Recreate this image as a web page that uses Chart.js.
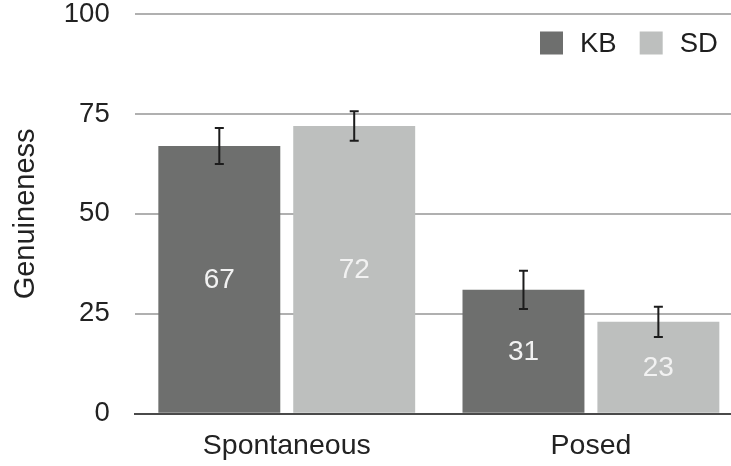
<!DOCTYPE html>
<html>
<head>
<meta charset="utf-8">
<script src="https://cdn.jsdelivr.net/npm/chart.js@4/dist/chart.umd.min.js"></script>
<style>
  html, body { margin: 0; padding: 0; background: #fff; overflow: hidden; }
  #wrap { width: 731px; height: 466px; overflow: hidden; position: relative; }
  canvas { display: block; }
</style>
</head>
<body>
<div id="wrap"><canvas id="chart" width="750" height="466"></canvas></div>
<script>
// Genuineness ratings by expression type
const categories = ['Spontaneous', 'Posed'];
const seriesNames = ['KB', 'SD'];
const kbValues = [67, 31];
const sdValues = [72, 23];
const kbErrors = [4.5, 4.8];
const sdErrors = [3.7, 3.8];
const yTicks = [0, 25, 50, 75, 100];
const axisTitle = 'Genuineness';

const FONT = "'Liberation Sans', Arial, Helvetica, sans-serif";
const KB_COLOR = '#6e6f6e';
const SD_COLOR = '#bdbfbe';
const GRID_COLOR = '#b0b0b0';
const CLEAR = 'rgba(0,0,0,0)';

// Error whiskers centred on each bar top
const errorBars = {
  id: 'errorBars',
  afterDatasetsDraw(chart) {
    const { ctx, scales: { y } } = chart;
    ctx.save();
    ctx.strokeStyle = '#1c1c1c';
    ctx.lineWidth = 2;
    chart.data.datasets.forEach((ds, di) => {
      const meta = chart.getDatasetMeta(di);
      meta.data.forEach((bar, i) => {
        const v = ds.data[i], e = ds.errors[i];
        const yTop = y.getPixelForValue(v + e);
        const yBot = y.getPixelForValue(v - e);
        const cap = 4.5;
        ctx.beginPath();
        ctx.moveTo(bar.x, yTop); ctx.lineTo(bar.x, yBot);
        ctx.moveTo(bar.x - cap, yTop); ctx.lineTo(bar.x + cap, yTop);
        ctx.moveTo(bar.x - cap, yBot); ctx.lineTo(bar.x + cap, yBot);
        ctx.stroke();
      });
    });
    ctx.restore();
  }
};

// Value printed in the middle of each bar
const barLabels = {
  id: 'barLabels',
  afterDatasetsDraw(chart) {
    const { ctx } = chart;
    ctx.save();
    ctx.font = '28px ' + FONT;
    ctx.textAlign = 'center';
    ctx.textBaseline = 'middle';
    ctx.fillStyle = '#f2f2f2';
    chart.data.datasets.forEach((ds, di) => {
      chart.getDatasetMeta(di).data.forEach((bar, i) => {
        ctx.fillText(String(ds.data[i]), bar.x, (bar.y + bar.base) / 2 + 1);
      });
    });
    ctx.restore();
  }
};

// Swatch legend in the upper right of the plot
const swatchLegend = {
  id: 'swatchLegend',
  afterDraw(chart) {
    const { ctx } = chart;
    ctx.save();
    ctx.font = '27.5px ' + FONT;
    ctx.textBaseline = 'middle';
    ctx.textAlign = 'left';
    let x = 540;
    const yc = 43, box = 23;
    chart.data.datasets.forEach((ds) => {
      ctx.fillStyle = ds.backgroundColor;
      ctx.fillRect(x, yc - box / 2, box, box);
      x += box + 17;
      ctx.fillStyle = '#1e1e1e';
      ctx.fillText(ds.label, x, yc + 1);
      x += ctx.measureText(ds.label).width + 23;
    });
    ctx.restore();
  }
};

new Chart(document.getElementById('chart'), {
  type: 'bar',
  data: {
    labels: categories,
    datasets: [
      { label: seriesNames[0], data: kbValues, errors: kbErrors, backgroundColor: KB_COLOR },
      { label: seriesNames[1], data: sdValues, errors: sdErrors, backgroundColor: SD_COLOR }
    ]
  },
  options: {
    responsive: false,
    animation: false,
    devicePixelRatio: 1,
    categoryPercentage: 0.887,
    barPercentage: 0.904,
    layout: { padding: { top: 14, right: 7, bottom: 3, left: 0 } },
    plugins: {
      legend: { display: false },
      tooltip: { enabled: false }
    },
    scales: {
      x: {
        grid: {
          display: true,
          drawOnChartArea: false,
          color: CLEAR,
          tickColor: CLEAR,
          drawTicks: true,
          tickLength: 15
        },
        border: { display: true, color: '#4a4a4a', width: 2 },
        ticks: {
          padding: 0,
          color: '#222',
          font: { family: FONT, size: 28.5, lineHeight: 1.2 }
        }
      },
      y: {
        min: 0,
        max: 100,
        afterBuildTicks: (scale) => { scale.ticks = yTicks.map(v => ({ value: v })); },
        grid: {
          color: (c) => (c.tick && c.tick.value === 0) ? CLEAR : GRID_COLOR,
          tickColor: CLEAR,
          lineWidth: 2,
          drawTicks: true,
          tickLength: 25
        },
        border: { display: false },
        ticks: {
          padding: 0,
          color: '#222',
          font: { family: FONT, size: 27.5, lineHeight: 1 }
        },
        title: {
          display: true,
          text: axisTitle,
          color: '#222',
          font: { family: FONT, size: 29, lineHeight: 1.2 },
          padding: { top: 9, bottom: 20 }
        }
      }
    }
  },
  plugins: [errorBars, barLabels, swatchLegend]
});
</script>
</body>
</html>
